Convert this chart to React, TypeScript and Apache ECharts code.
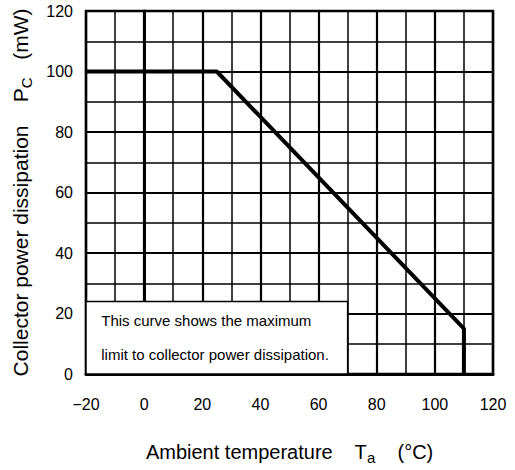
import React, { useEffect, useRef } from "react";
import * as echarts from "echarts";

const tempPoints: number[] = [-20, 25, 110, 110];
const powerPoints: number[] = [100, 100, 15, 0];
const xTicks = { min: -20, max: 120, interval: 20 };
const yTicks = { min: 0, max: 120, interval: 20 };
const noteBoxX: number[] = [-20, 70];
const noteBoxY: number[] = [0, 24];
const noteLines: string[] = [
  "This curve shows the maximum",
  "limit to collector power dissipation.",
];

const FONT = "'Liberation Sans', Arial, Helvetica, sans-serif";

export default function App() {
  const ref = useRef<HTMLDivElement>(null);
  useEffect(() => {
    if (!ref.current) return;
    const chart = echarts.init(ref.current, undefined, { renderer: "svg" });
    const curve = tempPoints.map((t, i) => [t, powerPoints[i]]);
    chart.setOption({
      animation: false,
      backgroundColor: "#fff",
      textStyle: { fontFamily: FONT, color: "#000" },
      grid: {
        left: 86,
        right: 22,
        top: 11,
        bottom: 94,
        show: true,
        borderColor: "#000",
        borderWidth: 2.5,
        backgroundColor: "transparent",
      },
      xAxis: {
        type: "value",
        min: xTicks.min,
        max: xTicks.max,
        interval: xTicks.interval,
        axisLine: { show: true, lineStyle: { color: "#000", width: 3 } },
        axisTick: { show: false },
        axisLabel: {
          margin: 22,
          fontSize: 16,
          color: "#000",
          fontFamily: FONT,
          formatter: (v: number) => String(v).replace("-", "\u2212"),
        },
        splitLine: { show: true, lineStyle: { color: "#000", width: 2.2 } },
        minorTick: { show: false, splitNumber: 2 },
        minorSplitLine: { show: true, lineStyle: { color: "#000", width: 1.5 } },
        name: "{m|Ambient temperature    T}{s|a}{m|    (°C)}",
        nameLocation: "middle",
        nameGap: 64,
        nameTextStyle: {
          fontFamily: FONT,
          color: "#000",
          rich: {
            m: { fontSize: 20, fontFamily: FONT, color: "#000" },
            s: { fontSize: 15, fontFamily: FONT, color: "#000", padding: [12, 0, 0, 0] },
          },
        },
      },
      yAxis: {
        type: "value",
        min: yTicks.min,
        max: yTicks.max,
        interval: yTicks.interval,
        axisLine: { show: true, lineStyle: { color: "#000", width: 3 } },
        axisTick: { show: false },
        axisLabel: { margin: 13, fontSize: 16, color: "#000", fontFamily: FONT },
        splitLine: { show: true, lineStyle: { color: "#000", width: 2.2 } },
        minorTick: { show: false, splitNumber: 2 },
        minorSplitLine: { show: true, lineStyle: { color: "#000", width: 1.5 } },
        name: "{m|Collector power dissipation    P}{s|C}{m|   (mW)}",
        nameLocation: "middle",
        nameGap: 52,
        nameTextStyle: {
          fontFamily: FONT,
          color: "#000",
          rich: {
            m: { fontSize: 21, fontFamily: FONT, color: "#000" },
            s: { fontSize: 15, fontFamily: FONT, color: "#000", padding: [12, 0, 0, 0] },
          },
        },
      },
      series: [
        {
          type: "line",
          data: curve,
          symbol: "none",
          lineStyle: { color: "#000", width: 4 },
          z: 5,
          markArea: {
            silent: true,
            itemStyle: { color: "#fff", borderColor: "#000", borderWidth: 1.5, opacity: 1 },
            label: {
              show: true,
              position: "insideLeft",
              distance: 16,
              formatter: noteLines.join("\n"),
              fontSize: 15,
              lineHeight: 34,
              color: "#000",
              fontFamily: FONT,
            },
            data: [[{ coord: [noteBoxX[0], noteBoxY[0]] }, { coord: [noteBoxX[1], noteBoxY[1]] }]],
          },
        },
      ],
    });
    return () => chart.dispose();
  }, []);
  return (
    <div
      ref={ref}
      style={{ position: "fixed", left: 0, top: 0, width: 515, height: 470, background: "#fff" }}
    />
  );
}
